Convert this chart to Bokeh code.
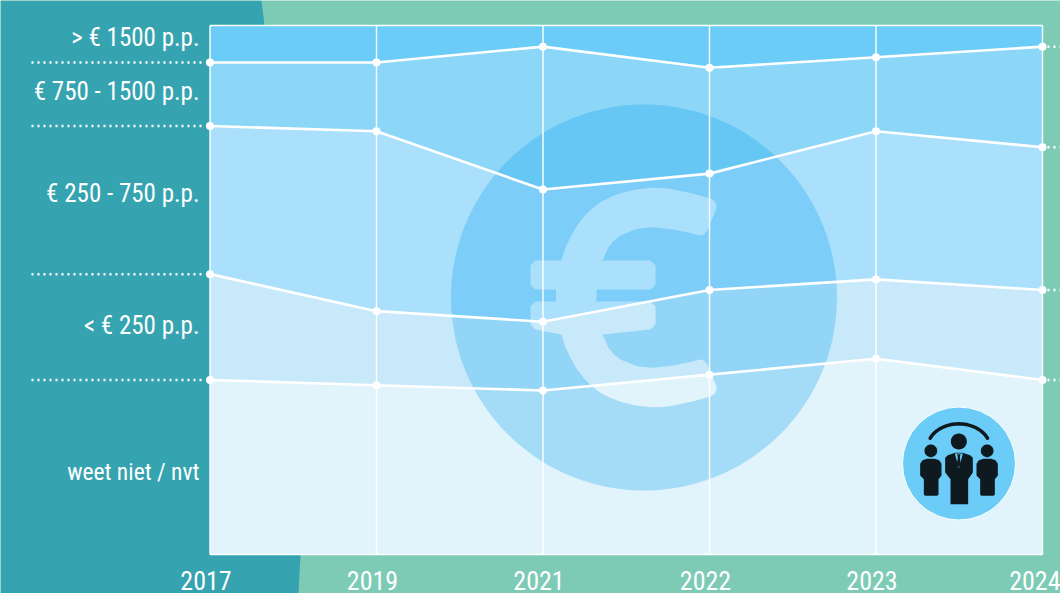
import math
from bokeh.core.properties import value
from bokeh.embed import file_html
from bokeh.models import ColumnDataSource, FixedTicker, LinearAxis, Range1d
from bokeh.plotting import figure
from bokeh.resources import INLINE

years = ["2017", "2019", "2021", "2022", "2023", "2024"]
weet_niet = [33, 32, 31, 34, 37, 33]
onder_250 = [20, 14, 13, 16, 15, 17]
van_250_750 = [28, 34, 25, 22, 28, 27]
van_750_1500 = [12, 13, 27, 20, 14, 19]
boven_1500 = [7, 7, 4, 8, 6, 4]

series = ["weet_niet", "onder_250", "van_250_750", "van_750_1500", "boven_1500"]
band_colors = ["#E1F3FB", "#C8E9FA", "#ABE0FC", "#8CD6F7", "#6BCDF7"]
labels = ["weet niet / nvt", "< € 250 p.p.", "€ 250 - 750 p.p.", "€ 750 - 1500 p.p.", "> € 1500 p.p."]
label_px_y = [471, 325, 193, 91, 37]
label_sizes = ["23.5px", "25px", "25px", "25px", "25px"]

W, H = 1060, 593
LEFT, RIGHT, TOP, BOTTOM = 209.5, 1042.0, 25.0, 554.0
step = (RIGHT - LEFT) / (len(years) - 1)
unit = (BOTTOM - TOP) / 100.0


def dx(px):
    return (px - LEFT) / step


def dy(py):
    return (BOTTOM - py) / unit


def poly(pts):
    return [dx(p[0]) for p in pts], [dy(p[1]) for p in pts]


x_idx = list(range(len(years)))
p = figure(
    width=W, height=H, output_backend="svg", toolbar_location=None,
    x_axis_location=None, y_axis_location=None,
    x_range=Range1d(dx(0), dx(W)), y_range=Range1d(dy(H), dy(0)),
    min_border=0, min_border_left=0, min_border_right=0, min_border_top=0, min_border_bottom=0,
    outline_line_color=None, background_fill_color="#7ECBB5", border_fill_color="#7ECBB5",
)
p.grid.visible = False

# background shape
tx, ty = poly([(0, 0), (261, 0), (264, 25), (300, 555), (298, 593), (0, 593)])
p.patch(tx, ty, fill_color="#35A3B0", line_color=None)

# stacked bands
src = ColumnDataSource(dict(x=x_idx, weet_niet=weet_niet, onder_250=onder_250, van_250_750=van_250_750,
                            van_750_1500=van_750_1500, boven_1500=boven_1500))
p.varea_stack(stackers=series, x="x", color=band_colors, source=src)

# large coin with the euro sign cut out
cx, cy, cr = 643.5, 297.0, 193.0
circle_pts = [(cx + cr * math.cos(i * math.pi / 90), cy + cr * math.sin(i * math.pi / 90)) for i in range(180)]


def arc(x0, y0, rx, ry, a0, a1, n=24):
    return [(x0 + rx * math.cos(math.radians(a0 + (a1 - a0) * i / n)),
             y0 + ry * math.sin(math.radians(a0 + (a1 - a0) * i / n))) for i in range(n + 1)]


upper_c = [(561, 260), (565, 247), (570, 236.7), (576, 226), (583, 216.7), (591, 208.5), (600, 201.7), (610, 196.5),
           (620, 192.7), (635, 189), (650, 187.3), (662, 187.6), (673, 189), (693, 193.3), (710, 198),
           (714, 200.5), (716, 204), (716, 208), (706.7, 230), (704, 233.5), (701, 235), (697, 234.5), (693, 233.3),
           (673, 229), (653, 226.7), (636.7, 228.3), (620, 235), (613, 240.5), (608, 246.7), (602, 260)]
lower_c = [(a, 594 - b) for a, b in upper_c]
euro = [(535, 260)] + upper_c
euro += [(650, 260), (655, 265), (655, 284), (650, 289), (596, 289), (596, 301),
         (650, 301), (655, 306), (655, 324), (650, 329)]
euro += lower_c[::-1]
euro += [(535, 329), (530, 324), (530, 306), (535, 301), (555.5, 301), (555.5, 289), (535, 289),
         (530, 284), (530, 265)]
cxs, cys = poly(circle_pts)
exs, eys = poly(euro)
p.multi_polygons(xs=[[[cxs, exs]]], ys=[[[cys, eys]]], fill_color="#009EED", fill_alpha=0.27, line_color=None)

# vertical grid lines and plot border
p.segment(x0=x_idx, y0=[0] * 6, x1=x_idx, y1=[100] * 6, line_color="white", line_width=1.4)
p.segment(x0=[0, 0], y0=[0, 100], x1=[5, 5], y1=[0, 100], line_color="white", line_width=1.6)

# cumulative boundaries
stack = [0] * len(years)
for name, vals in zip(series[:-1], [weet_niet, onder_250, van_250_750, van_750_1500]):
    stack = [a + b for a, b in zip(stack, vals)]
    p.line(x_idx, stack, line_color="white", line_width=2.6)
    p.scatter(x_idx, stack, size=8, marker="circle", fill_color="white", line_color=None)
    p.line([dx(31), dx(205)], [stack[0], stack[0]], line_color="white", line_width=2.5, line_dash="2 4")
    p.line([dx(1047), dx(1060)], [stack[-1], stack[-1]], line_color="white", line_width=2.5, line_dash="2 4")

# category labels
FONT = "Roboto Condensed"
p.text(x=[dx(199)] * 5, y=[dy(v) for v in label_px_y], text=labels, text_color="white",
       text_font=value(FONT), text_font_size=label_sizes, text_align="right", text_baseline="middle")

# x axis, shifted a few pixels left of the grid lines as in the source
p.extra_x_ranges = {"labels": Range1d(dx(0) + 4 / step, dx(W) + 4 / step)}
ax = LinearAxis(x_range_name="labels", fixed_location=0, ticker=FixedTicker(ticks=x_idx),
                major_label_overrides={i: y for i, y in enumerate(years)},
                axis_line_color=None, major_tick_line_color=None, minor_tick_line_color=None,
                major_label_text_color="white", major_label_text_font=FONT,
                major_label_text_font_size="26px", major_label_standoff=10)
p.add_layout(ax, "below")

# people icon
ix, iy = 958.5, 463.0
p.scatter([dx(ix)], [dy(iy)], size=113, marker="circle", fill_color="#6BCDF7", line_color="white", line_width=1)
INK = "#0F1A20"


def z(pts):
    return poly([(860 + a / 3, 380 + b / 3) for a, b in pts])


ax_x, ax_y = z(arc(295, 205, 95, 75, 205, 335))
p.line(ax_x, ax_y, line_color=INK, line_width=3.5, line_cap="round")
for hx, hy, hr in [(295, 183, 24), (211, 211, 19), (380, 211, 19)]:
    cpts = arc(hx, hy, hr, hr, 0, 360, 30)
    a, b = z(cpts)
    p.patch(a, b, fill_color=INK, line_color=None)
body = [(254, 232), (262, 224), (284, 217), (306, 217), (329, 224), (337, 232), (337, 276), (323, 296),
        (323, 371), (270, 371), (270, 296), (254, 276)]
side = [(179, 250), (186, 239), (200, 235), (223, 235), (236, 239), (243, 250), (243, 285), (234, 296),
        (234, 343), (230, 346), (194, 346), (190, 343), (190, 296), (179, 285)]
a, b = z(body)
p.patch(a, b, fill_color=INK, line_color=None)
a, b = z(side)
p.patch(a, b, fill_color=INK, line_color=None)
a, b = z([(q + 169, r) for q, r in side])
p.patch(a, b, fill_color=INK, line_color=None)
a, b = z([(283, 219), (307, 219), (295, 264)])
p.patch(a, b, fill_color="#6BCDF7", line_color=None)
a, b = z([(290, 221), (300, 221), (298, 232), (301, 250), (295, 260), (289, 250), (292, 232)])
p.patch(a, b, fill_color=INK, line_color=None)

open("out.html", "w").write(file_html(p, INLINE))
